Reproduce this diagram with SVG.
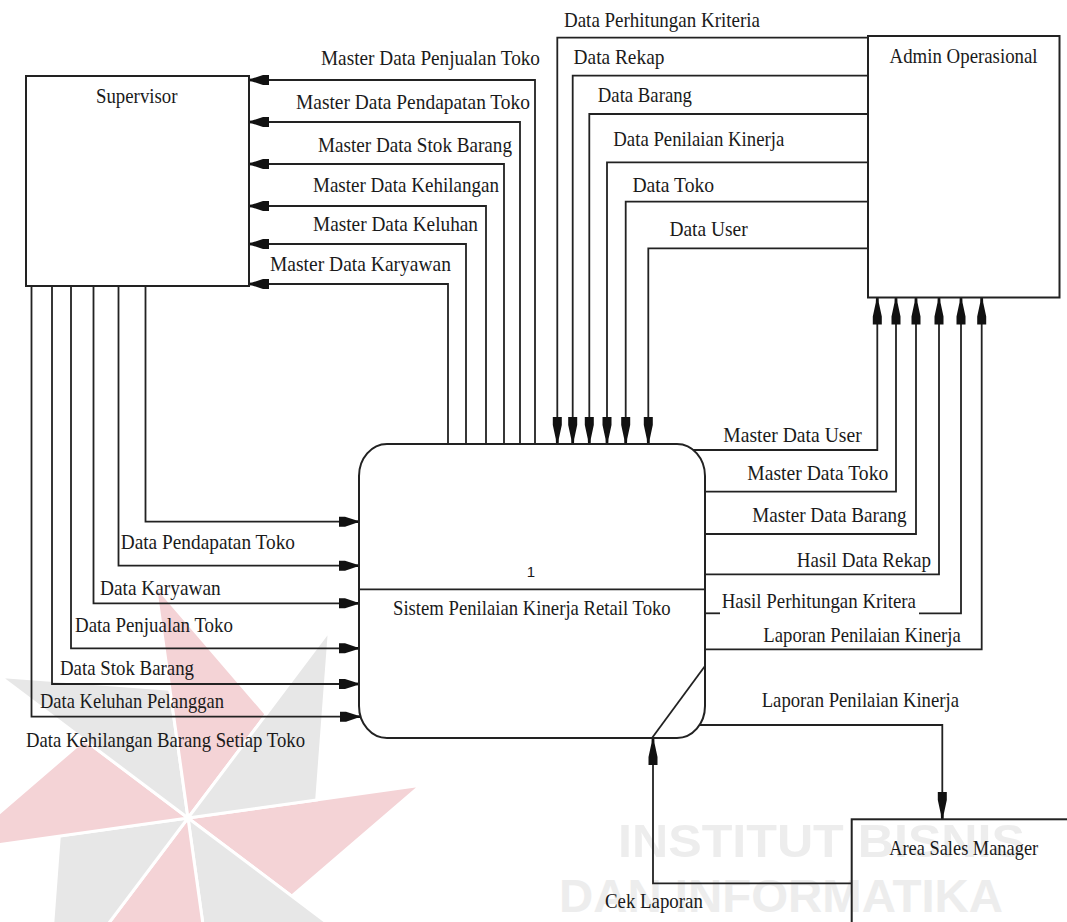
<svg xmlns="http://www.w3.org/2000/svg" width="1067" height="922" viewBox="0 0 1067 922">
<style>
.lbl{font-family:"Liberation Serif","Times New Roman",serif;font-size:22px;fill:#1a1a1a}
.box{fill:none;stroke:#222;stroke-width:2}
.con{fill:none;stroke:#222;stroke-width:1.8}
.wm{font-family:"Liberation Sans",Arial,sans-serif;font-weight:bold;font-size:46px;fill:#ededed}
.pk{fill:#f4d3d6;stroke:#fff;stroke-width:3}
.gy{fill:#e7e7e7;stroke:#fff;stroke-width:3}
</style>
<defs>
<marker id="ah" markerUnits="userSpaceOnUse" markerWidth="22" markerHeight="14" refX="20" refY="7" orient="auto">
<path d="M0,2 L6,2 L17,5.6 L20,5.8 L20,8.2 L17,8.4 L6,12 L0,12 Z" fill="#111"/>
</marker>
<marker id="av" markerUnits="userSpaceOnUse" markerWidth="29" markerHeight="12" refX="27" refY="6" orient="auto">
<path d="M0,1.5 L8,1.5 L22,4.5 L27,4.7 L27,7.3 L22,7.5 L8,10.5 L0,10.5 Z" fill="#111"/>
</marker>
</defs>
<rect x="0" y="0" width="1067" height="922" fill="#fff"/>
<g id="watermark">
<polygon class="pk" points="188,818 420.7,785.3 291.8,896.2"/>
<polygon class="gy" points="188,818 375.7,959.4 206.1,946.7"/>
<polygon class="pk" points="188,818 220.7,1050.7 109.8,921.8"/>
<polygon class="gy" points="188,818 46.6,1005.7 59.3,836.1"/>
<polygon class="pk" points="188,818 -44.7,850.7 84.2,739.8"/>
<polygon class="gy" points="188,818 0.3,676.6 169.9,689.3"/>
<polygon class="pk" points="188,818 155.3,585.3 266.2,714.2"/>
<polygon class="gy" points="188,818 329.4,630.3 316.7,799.9"/>
<text class="wm" x="618" y="857" textLength="407" lengthAdjust="spacingAndGlyphs">INSTITUT BISNIS</text>
<text class="wm" x="559" y="912" textLength="444" lengthAdjust="spacingAndGlyphs">DAN INFORMATIKA</text>
</g>
<g id="connectors">
<path class="con" marker-end="url(#ah)" d="M535,444 V80 H249"/>
<path class="con" marker-end="url(#ah)" d="M520,444 V122 H249"/>
<path class="con" marker-end="url(#ah)" d="M504,444 V164 H249"/>
<path class="con" marker-end="url(#ah)" d="M486,444 V206 H249"/>
<path class="con" marker-end="url(#ah)" d="M466,444 V244 H249"/>
<path class="con" marker-end="url(#ah)" d="M448,444 V284 H249"/>
<path class="con" marker-end="url(#ah)" d="M145.5,286 V521.7 H359"/>
<path class="con" marker-end="url(#ah)" d="M118.5,286 V565.7 H359"/>
<path class="con" marker-end="url(#ah)" d="M93.5,286 V603.3 H359"/>
<path class="con" marker-end="url(#ah)" d="M71,286 V648.3 H359"/>
<path class="con" marker-end="url(#ah)" d="M52,286 V684 H359"/>
<path class="con" marker-end="url(#ah)" d="M31.5,286 V716.7 H360"/>
<path class="con" marker-end="url(#av)" d="M868,37.7 H557.3 V444"/>
<path class="con" marker-end="url(#av)" d="M868,75.7 H572.7 V444"/>
<path class="con" marker-end="url(#av)" d="M868,114 H589.3 V444"/>
<path class="con" marker-end="url(#av)" d="M868,162.3 H607 V444"/>
<path class="con" marker-end="url(#av)" d="M868,201.7 H625.7 V444"/>
<path class="con" marker-end="url(#av)" d="M868,248.3 H648.3 V444"/>
<path class="con" marker-end="url(#av)" d="M693,450 H877.3 V297.5"/>
<path class="con" marker-end="url(#av)" d="M705,491.7 H896 V297.5"/>
<path class="con" marker-end="url(#av)" d="M705,534 H916 V297.5"/>
<path class="con" marker-end="url(#av)" d="M705,574.3 H939 V297.5"/>
<path class="con" d="M705,613.3 H720"/>
<path class="con" marker-end="url(#av)" d="M919,613.3 H961 V297.5"/>
<path class="con" marker-end="url(#av)" d="M705,649.3 H981.7 V297.5"/>
<path class="con" marker-end="url(#av)" d="M700,725 H942.3 V819"/>
<path class="con" marker-end="url(#av)" d="M851.7,883.3 H653 V738"/>
</g>
<g id="supervisor">
<rect class="box" x="26" y="76" width="223" height="210"/>
<text class="lbl" x="96" y="103" textLength="81.5" lengthAdjust="spacingAndGlyphs">Supervisor</text>
</g>
<g id="admin-operasional">
<rect class="box" x="868" y="36" width="191.5" height="261.5"/>
<text class="lbl" x="889.6" y="63" textLength="148" lengthAdjust="spacingAndGlyphs">Admin Operasional</text>
</g>
<g id="area-sales-manager">
<rect class="box" x="851.7" y="819.3" width="240" height="130"/>
<text class="lbl" x="889.2" y="855" textLength="149" lengthAdjust="spacingAndGlyphs">Area Sales Manager</text>
</g>
<g id="process-1">
<rect class="box" x="359" y="444" width="346" height="294" rx="28" ry="32"/>
<line class="con" x1="359" y1="589.3" x2="705" y2="589.3"/>
<line class="con" x1="705" y1="666" x2="652" y2="738"/>
<text x="531" y="577" text-anchor="middle" font-family="Liberation Sans, Arial, sans-serif" font-size="15" fill="#1a1a1a">1</text>
<text class="lbl" x="393" y="615" textLength="277.7" lengthAdjust="spacingAndGlyphs">Sistem Penilaian Kinerja Retail Toko</text>
</g>
<g id="labels">
<text class="lbl" x="321" y="65" textLength="219" lengthAdjust="spacingAndGlyphs">Master Data Penjualan Toko</text>
<text class="lbl" x="296" y="109" textLength="234" lengthAdjust="spacingAndGlyphs">Master Data Pendapatan Toko</text>
<text class="lbl" x="318" y="152" textLength="194" lengthAdjust="spacingAndGlyphs">Master Data Stok Barang</text>
<text class="lbl" x="313" y="192" textLength="186" lengthAdjust="spacingAndGlyphs">Master Data Kehilangan</text>
<text class="lbl" x="313" y="231" textLength="165" lengthAdjust="spacingAndGlyphs">Master Data Keluhan</text>
<text class="lbl" x="270" y="271" textLength="181" lengthAdjust="spacingAndGlyphs">Master Data Karyawan</text>
<text class="lbl" x="564" y="27" textLength="196" lengthAdjust="spacingAndGlyphs">Data Perhitungan Kriteria</text>
<text class="lbl" x="573.6" y="64.3" textLength="90.8" lengthAdjust="spacingAndGlyphs">Data Rekap</text>
<text class="lbl" x="597.8" y="101.7" textLength="94.2" lengthAdjust="spacingAndGlyphs">Data Barang</text>
<text class="lbl" x="613.3" y="145.7" textLength="171" lengthAdjust="spacingAndGlyphs">Data Penilaian Kinerja</text>
<text class="lbl" x="632.4" y="191.7" textLength="81.7" lengthAdjust="spacingAndGlyphs">Data Toko</text>
<text class="lbl" x="669.4" y="236" textLength="78.3" lengthAdjust="spacingAndGlyphs">Data User</text>
<text class="lbl" x="120.7" y="549" textLength="174.3" lengthAdjust="spacingAndGlyphs">Data Pendapatan Toko</text>
<text class="lbl" x="100" y="595" textLength="120.7" lengthAdjust="spacingAndGlyphs">Data Karyawan</text>
<text class="lbl" x="75" y="631.7" textLength="158" lengthAdjust="spacingAndGlyphs">Data Penjualan Toko</text>
<text class="lbl" x="60" y="675" textLength="134" lengthAdjust="spacingAndGlyphs">Data Stok Barang</text>
<text class="lbl" x="40" y="708" textLength="184" lengthAdjust="spacingAndGlyphs">Data Keluhan Pelanggan</text>
<text class="lbl" x="26" y="746.7" textLength="279" lengthAdjust="spacingAndGlyphs">Data Kehilangan Barang Setiap Toko</text>
<text class="lbl" x="723.3" y="442.3" textLength="138.4" lengthAdjust="spacingAndGlyphs">Master Data User</text>
<text class="lbl" x="747.3" y="480" textLength="141" lengthAdjust="spacingAndGlyphs">Master Data Toko</text>
<text class="lbl" x="752.3" y="521.7" textLength="154.4" lengthAdjust="spacingAndGlyphs">Master Data Barang</text>
<text class="lbl" x="796.7" y="566.7" textLength="134.3" lengthAdjust="spacingAndGlyphs">Hasil Data Rekap</text>
<text class="lbl" x="721.7" y="608.3" textLength="194.3" lengthAdjust="spacingAndGlyphs">Hasil Perhitungan Kritera</text>
<text class="lbl" x="763.3" y="641.7" textLength="197.4" lengthAdjust="spacingAndGlyphs">Laporan Penilaian Kinerja</text>
<text class="lbl" x="761.7" y="706.7" textLength="197.3" lengthAdjust="spacingAndGlyphs">Laporan Penilaian Kinerja</text>
<text class="lbl" x="605" y="908.3" textLength="97.8" lengthAdjust="spacingAndGlyphs">Cek Laporan</text>
</g>
</svg>
